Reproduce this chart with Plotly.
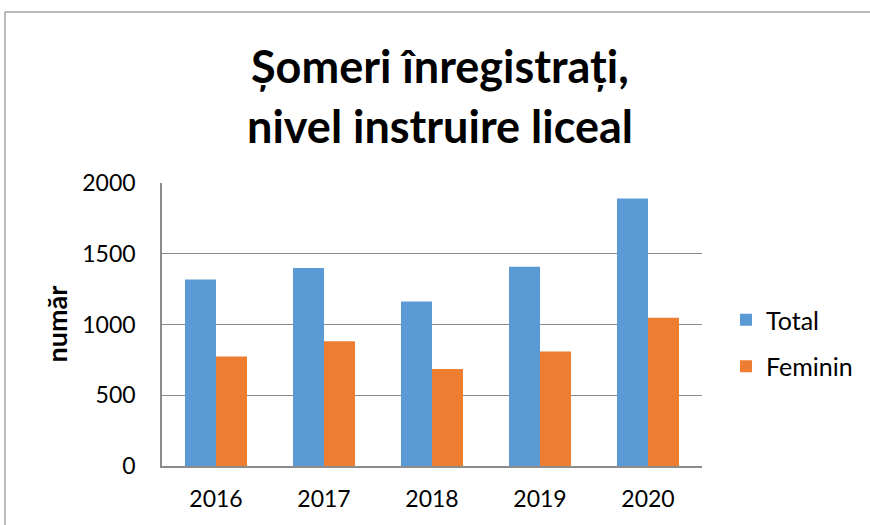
import plotly.graph_objects as go

years = ["2016", "2017", "2018", "2019", "2020"]
total = [1318, 1400, 1162, 1409, 1890]
feminin = [774, 882, 685, 809, 1047]
series_names = ["Total", "Feminin"]
title_lines = ["Șomeri înregistrați,", "nivel instruire liceal"]
y_title = "număr"
y_ticks = [0, 500, 1000, 1500, 2000]

W, H = 870, 525
L, R, T, B = 162, 168, 183, 59
pw, ph = W - L - R, H - T - B

def px_x(x):
    return (x - L) / pw

def px_y(y):
    return (H - B - y) / ph

FONT = "Lato"
fig = go.Figure()
fig.add_trace(go.Bar(x=years, y=total, name=series_names[0], marker_color="#5B9BD5",
                     marker_line_width=0, legendgroup="a"))
fig.add_trace(go.Bar(x=years, y=feminin, name=series_names[1], marker_color="#ED7D31",
                     marker_line_width=0, legendgroup="b"))

fig.update_layout(
    width=W, height=H,
    margin=dict(l=L, r=R, t=T, b=B, autoexpand=False),
    paper_bgcolor="white", plot_bgcolor="white",
    barmode="group", bargap=0.426, bargroupgap=0,
    font=dict(family=FONT, color="#000000", size=23),
    showlegend=True,
    legend=dict(x=px_x(726), y=px_y(297), xanchor="left", yanchor="top",
                font=dict(size=25, family=FONT), tracegroupgap=11,
                bgcolor="rgba(0,0,0,0)", itemwidth=30),
    xaxis=dict(showline=True, linecolor="#8C8C8C", linewidth=1.5, ticks="",
               showgrid=False, tickfont=dict(size=23), ticklabelstandoff=12),
    yaxis=dict(range=[0, 2000], tickvals=y_ticks, showline=True, linecolor="#8C8C8C",
               linewidth=1.5, gridcolor="#8C8C8C", gridwidth=1.3, ticks="",
               tickfont=dict(size=23), ticklabelstandoff=20, zeroline=False),
)

# title lines
fig.add_annotation(text="<b>" + title_lines[0] + "</b>", xref="paper", yref="paper",
                   x=px_x(440), y=px_y(66), xanchor="center", yanchor="middle",
                   showarrow=False, font=dict(size=45, family=FONT, color="#000"))
fig.add_annotation(text="<b>" + title_lines[1] + "</b>", xref="paper", yref="paper",
                   x=px_x(440), y=px_y(126), xanchor="center", yanchor="middle",
                   showarrow=False, font=dict(size=45, family=FONT, color="#000"))
# y-axis title
fig.add_annotation(text="<b>" + y_title + "</b>", xref="paper", yref="paper",
                   x=px_x(56), y=0.5, xanchor="center", yanchor="middle", textangle=-90,
                   showarrow=False, font=dict(size=27, family=FONT, color="#000"))

# outer chart frame (extends beyond canvas at right/bottom)
fig.add_shape(type="rect", xref="paper", yref="paper",
              x0=px_x(5), x1=px_x(W + 10), y0=px_y(H + 10), y1=px_y(12),
              line=dict(color="#A6A6A6", width=1.5), fillcolor="rgba(0,0,0,0)", layer="below")

fig.write_html("out.html", config={"displayModeBar": False},
               post_script="document.body.style.margin='0';")
